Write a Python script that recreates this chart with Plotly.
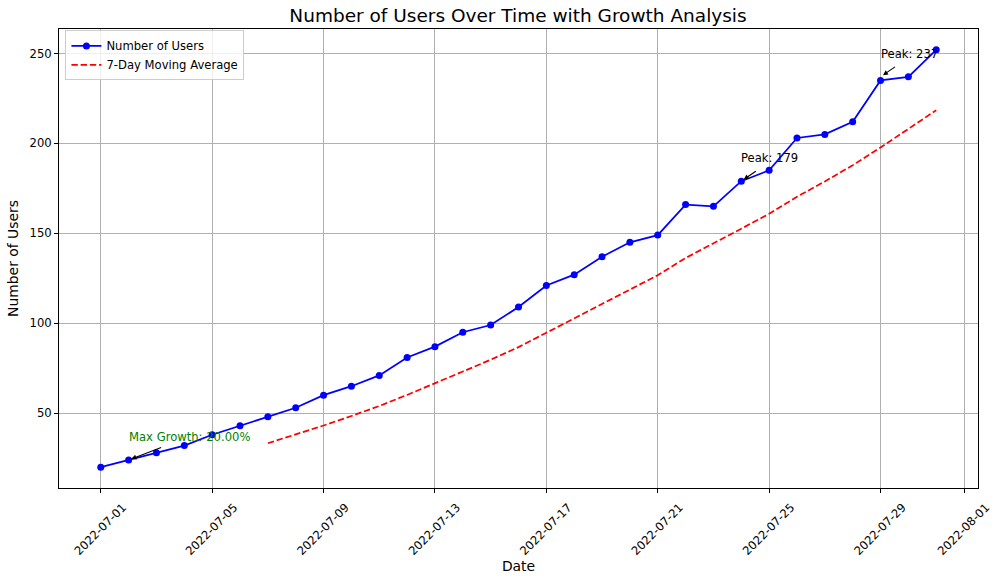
import pandas as pd
import plotly.graph_objects as go

# ---- data ----
start_date = "2022-07-01"
users = [20, 24, 28, 32, 38, 43, 48, 53, 60, 65, 71, 81, 87, 95, 99, 109,
         121, 127, 137, 145, 149, 166, 165, 179, 185, 203, 205, 212, 235, 237, 252]
dates = pd.date_range(start_date, periods=len(users), freq="D")
peak_dates = ["2022-07-24", "2022-07-29"]
peak_values = [179, 237]
x_tick_vals = ["2022-07-01", "2022-07-05", "2022-07-09", "2022-07-13", "2022-07-17",
               "2022-07-21", "2022-07-25", "2022-07-29", "2022-08-01"]
y_tick_vals = [50, 100, 150, 200, 250]

s = pd.Series(users, index=dates)
moving_avg = s.rolling(7).mean()
growth = s.pct_change() * 100
g_idx = growth.idxmax()
g_val = growth.max()

FONT = "DejaVu Sans"

fig = go.Figure()
fig.add_trace(go.Scatter(
    x=dates, y=users, mode="lines+markers", name="Number of Users",
    line=dict(color="#0000ff", width=1.75),
    marker=dict(color="#0000ff", size=7),
))
fig.add_trace(go.Scatter(
    x=dates, y=moving_avg, mode="lines", name="7-Day Moving Average",
    line=dict(color="#ff0000", width=1.75, dash="6.4px,2.8px"),
))

annots = []
def add_note(xd, yv, text, color, ax, ay):
    annots.append(dict(x=xd, y=yv + 10, xref="x", yref="y", text=text, showarrow=False,
                       xanchor="left", yanchor="bottom", yshift=-4, xshift=-2,
                       font=dict(family=FONT, size=11.6, color=color)))
    annots.append(dict(x=xd, y=yv, xref="x", yref="y", text="", showarrow=True,
                       ax=ax, ay=ay, axref="pixel", ayref="pixel",
                       arrowhead=2, arrowsize=0.9, arrowwidth=1.1, arrowcolor="black",
                       standoff=3))

add_note(g_idx, s[g_idx], f"Max Growth: {g_val:.2f}%", "#008000", 34, -13)
for d, v in zip(peak_dates, peak_values):
    add_note(d, v, f"Peak: {v}", "black", 16, -11)

axis_common = dict(
    showline=True, linecolor="black", linewidth=1, mirror=True,
    ticks="outside", ticklen=4, tickwidth=1, tickcolor="black",
    showgrid=True, gridcolor="#b0b0b0", gridwidth=0.9, zeroline=False,
    tickfont=dict(family=FONT, size=11.6, color="black"),
    automargin=False,
)

fig.update_layout(
    width=1000, height=581,
    margin=dict(l=59, r=22, t=29, b=93, autoexpand=False),
    paper_bgcolor="white", plot_bgcolor="white",
    font=dict(family=FONT, color="black"),
    title=dict(text="Number of Users Over Time with Growth Analysis",
               font=dict(family=FONT, size=18.5, color="black"),
               x=0.518, xanchor="center", yref="container", y=1 - 16 / 581,
               yanchor="middle", automargin=False),
    xaxis=dict(axis_common, type="date", range=["2022-06-29 12:00", "2022-08-01 12:00"],
               tickvals=x_tick_vals, tickformat="%Y-%m-%d", tickangle=-45,
               ticklabelshift=22, ticklabelstandoff=3,
               title=dict(text="Date", font=dict(family=FONT, size=13.9, color="black"),
                          standoff=0)),
    yaxis=dict(axis_common, range=[8.4, 263.6], tickvals=y_tick_vals,
               title=dict(text="Number of Users",
                          font=dict(family=FONT, size=13.9, color="black"), standoff=7)),
    legend=dict(x=0.007, y=0.997, xanchor="left", yanchor="top",
                bgcolor="rgba(255,255,255,0.8)", bordercolor="#cccccc", borderwidth=1,
                font=dict(family=FONT, size=11.6, color="black"),
                tracegroupgap=0, itemwidth=30),
    annotations=annots,
    showlegend=True,
)

fig.write_html("out.html", config={"displayModeBar": False},
               post_script="document.body.style.margin='0';"
                           "document.documentElement.style.overflow='hidden';")
